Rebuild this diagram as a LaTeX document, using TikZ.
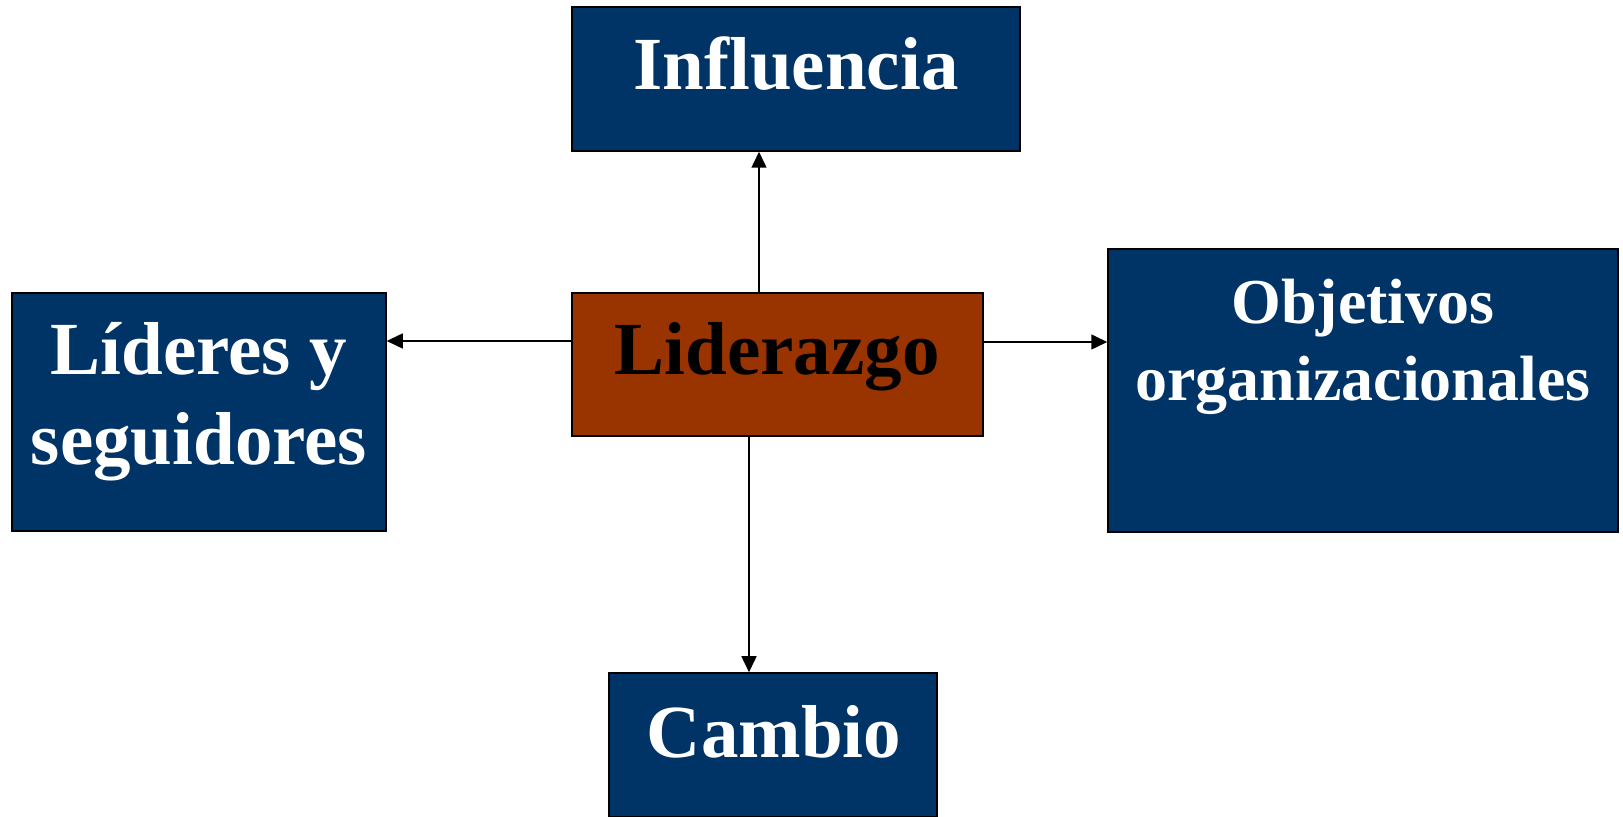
\documentclass[tikz,border=0pt]{standalone}
\usepackage{fontspec}
\setmainfont{Liberation Serif}
\usetikzlibrary{arrows.meta,calc}
\definecolor{navy}{HTML}{003366}
\definecolor{rust}{HTML}{993300}
\tikzset{
  box/.style={draw=black, line width=0.75pt, inner sep=0pt, fill=navy},
  cbox/.style={draw=black, line width=0.75pt, inner sep=0pt, fill=rust},
  wtxt/.style={anchor=base, inner sep=0pt, text=white, font=\fontsize{37.5}{45}\selectfont\bfseries},
  stxt/.style={anchor=base, inner sep=0pt, text=white, font=\fontsize{32}{37.5}\selectfont\bfseries},
  btxt/.style={anchor=base, inner sep=0pt, text=black, font=\fontsize{37.5}{45}\selectfont\bfseries},
  arr/.style={draw=black, line width=0.75pt, -{Triangle[length=8pt,width=7.5pt]}}
}
\begin{document}
\begin{tikzpicture}[x=0.5pt,y=-0.5pt]
\useasboundingbox (0,0) rectangle (1623,817);
% boxes
\node[box, minimum width=224pt, minimum height=72pt] (inf) at (796,79) {};
\node[box, minimum width=187pt, minimum height=119pt] (lea) at (199,412) {};
\node[cbox, minimum width=205.5pt, minimum height=71.5pt] (lid) at (777.5,364.5) {};
\node[box, minimum width=255pt, minimum height=141.5pt] (obj) at (1363,390.5) {};
\node[box, minimum width=164pt, minimum height=72pt] (cam) at (773,745) {};
% texts
\node[wtxt] (tinf) at (796,90) {Influencia};
\node[wtxt] (tlea1) at (199,375) {Líderes y};
\node[wtxt] (tlea2) at (199,465) {seguidores};
\node[btxt] (tlid) at (777,375) {Liderazgo};
\node[stxt] (tobj1) at (1363,324) {Objetivos};
\node[stxt] (tobj2) at (1363,401) {organizacionales};
\node[wtxt] (tcam) at (774,757) {Cambio};
% connectors
\coordinate (ptop) at ($(lid.north)+(-18.5,0)$);
\coordinate (pbot) at ($(lid.south)+(-28.5,0)$);
\coordinate (plft) at ($(lid.west)+(0,-23.5)$);
\coordinate (prgt) at ($(lid.east)+(0,-22.5)$);
\draw[arr] (ptop) -- (ptop |- inf.south);
\draw[arr] (pbot) -- (pbot |- cam.north);
\draw[arr] (plft) -- (plft -| lea.east);
\draw[arr] (prgt) -- (prgt -| obj.west);
\end{tikzpicture}
\end{document}
